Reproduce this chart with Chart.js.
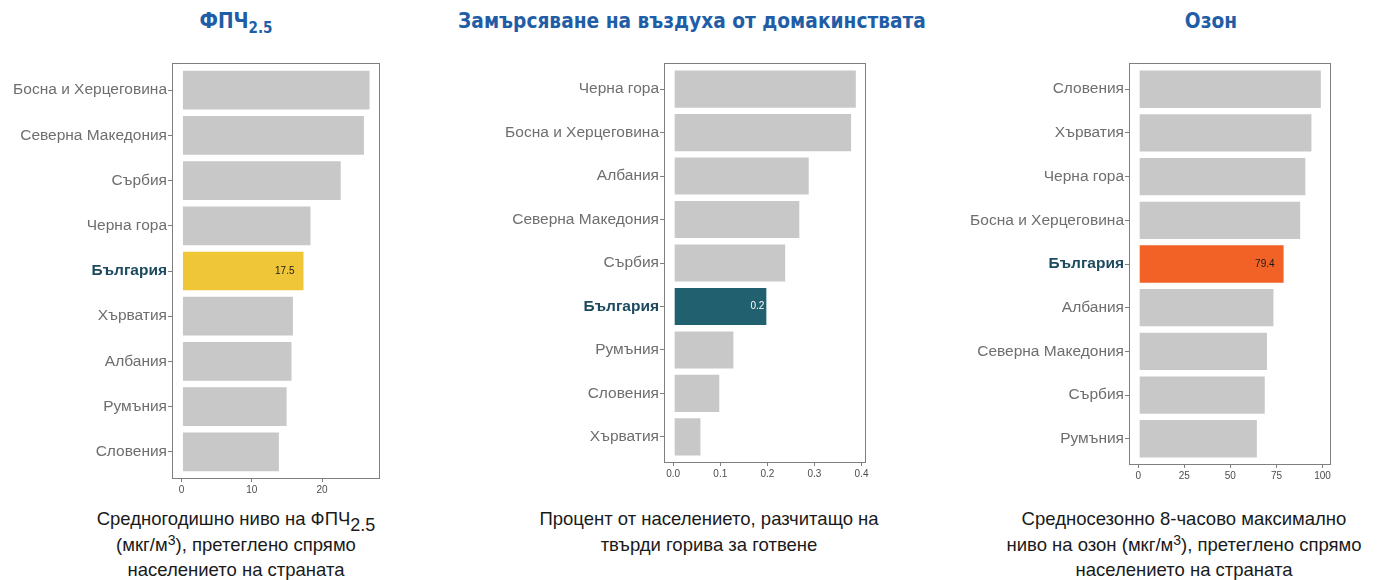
<!DOCTYPE html>
<html>
<head>
<meta charset="utf-8">
<script src="https://cdn.jsdelivr.net/npm/chart.js@4.4.1/dist/chart.umd.min.js"></script>
<style>
  html, body { margin: 0; padding: 0; background: #fff; }
  body { width: 1391px; height: 580px; position: relative; overflow: hidden;
         font-family: "Liberation Sans", Arial, sans-serif; }
  .title { position: absolute; top: 8px; color: #1f5da6; font-weight: bold; font-size: 22px;
           font-family: "Liberation Sans Narrow", "DejaVu Sans Condensed", "Liberation Sans", sans-serif;
           text-align: center; white-space: nowrap; transform: translateX(-50%) scaleX(0.94); }
  .title sub { font-size: 16px; vertical-align: -5px; line-height: 0; }
  .caption { position: absolute; top: 506px; color: #1a1a1a; font-size: 18.5px; line-height: 25.5px;
             text-align: center; white-space: nowrap; transform: translateX(-50%); }
  .caption sub { font-size: 18px; vertical-align: -6px; line-height: 0; }
  .caption sup { font-size: 14px; vertical-align: 6px; line-height: 0; }
  .panel { position: absolute; top: 50px; height: 460px; }
</style>
</head>
<body>
<div class="title" style="left:236px">ФПЧ<sub>2.5</sub></div>
<div class="title" style="left:692px">Замърсяване на въздуха от домакинствата</div>
<div class="title" style="left:1211px">Озон</div>

<div class="caption" style="left:236px">Средногодишно ниво на ФПЧ<sub>2.5</sub><br>(мкг/м<sup>3</sup>), претеглено спрямо<br>населението на страната</div>
<div class="caption" style="left:709px">Процент от населението, разчитащо на<br>твърди горива за готвене</div>
<div class="caption" style="left:1184px">Средносезонно 8-часово максимално<br>ниво на озон (мкг/м<sup>3</sup>), претеглено спрямо<br>населението на страната</div>

<div class="panel" style="left:0px;width:400px"><canvas id="pm25"></canvas></div>
<div class="panel" style="left:450px;width:440px"><canvas id="household"></canvas></div>
<div class="panel" style="left:940px;width:420px"><canvas id="ozone"></canvas></div>

<script>
// --- данни ---
const pmCountries = ["Босна и Херцеговина", "Северна Македония", "Сърбия", "Черна гора", "България",
  "Хърватия", "Албания", "Румъния", "Словения"];
const pmValues = [26.9, 26.1, 22.8, 18.5, 17.5, 16.0, 15.8, 15.1, 14.0];
const pmTicks = [0, 10, 20];

const hhCountries = ["Черна гора", "Босна и Херцеговина", "Албания", "Северна Македония", "Сърбия",
  "България", "Румъния", "Словения", "Хърватия"];
const hhValues = [0.39, 0.38, 0.29, 0.27, 0.24, 0.20, 0.13, 0.10, 0.06];
const hhTicks = [0, 0.1, 0.2, 0.3, 0.4];

const ozCountries = ["Словения", "Хърватия", "Черна гора", "Босна и Херцеговина", "България",
  "Албания", "Северна Македония", "Сърбия", "Румъния"];
const ozValues = [99.6, 94.5, 91.2, 88.4, 79.4, 73.9, 70.4, 69.2, 64.9];
const ozTicks = [0, 25, 50, 75, 100];

const HIGHLIGHT = "България";
const GREY_BAR = "#c8c8c8";

// рамка около областта на графиката (като panel.border в ggplot)
const framePlugin = {
  id: "frame",
  afterDraw: (chart) => {
    const a = chart.chartArea;
    const ctx = chart.ctx;
    ctx.save();
    ctx.strokeStyle = "#7f7f7f";
    ctx.lineWidth = 1;
    ctx.strokeRect(a.left + 0.5, a.top + 0.5, a.right - a.left - 1, a.bottom - a.top - 1);
    ctx.restore();
  }
};

// стойност върху маркираната лента
const valueLabelPlugin = {
  id: "valueLabel",
  afterDatasetsDraw: (chart, args, opts) => {
    const ds = chart.data.datasets[0];
    const idx = opts.countries.indexOf(HIGHLIGHT);
    const bar = chart.getDatasetMeta(0).data[idx];
    if (!bar) return;
    const ctx = chart.ctx;
    ctx.save();
    ctx.font = "10px 'Liberation Sans', Arial, sans-serif";
    ctx.textAlign = "right";
    ctx.textBaseline = "middle";
    ctx.fillStyle = opts.color;
    ctx.fillText(ds.data[idx].x.toFixed(1), bar.x - opts.inset, bar.y);
    ctx.restore();
  }
};

function makeChart(id, countries, values, ticks, highlightColor, box, labelOpts) {
  const maxV = Math.max(...values);
  const decimals = ticks[1] < 1 ? 1 : 0;
  return new Chart(document.getElementById(id), {
    type: "bar",
    data: {
      datasets: [{
        data: values.map((v, i) => ({ x: v, y: i })),
        backgroundColor: countries.map(c => c === HIGHLIGHT ? highlightColor : GREY_BAR),
        borderColor: "rgba(255,255,255,0.55)",
        borderWidth: 1,
        borderSkipped: false,
        categoryPercentage: 1,
        barPercentage: 0.9
      }]
    },
    options: {
      indexAxis: "y",
      responsive: true,
      maintainAspectRatio: false,
      animation: false,
      events: [],
      layout: { padding: { top: box.top, right: box.right, left: 0, bottom: 0 } },
      plugins: {
        legend: { display: false },
        title: { display: false },
        tooltip: { enabled: false },
        valueLabel: Object.assign({ countries: countries }, labelOpts)
      },
      scales: {
        x: {
          type: "linear",
          min: -0.05 * maxV,
          max: 1.05 * maxV,
          afterBuildTicks: (s) => { s.ticks = ticks.map(v => ({ value: v })); },
          afterFit: (s) => { s.height = box.xAxisH; },
          border: { display: false },
          grid: { drawOnChartArea: false, drawTicks: true, tickLength: 3, color: "#7f7f7f" },
          ticks: {
            color: "#4d4d4d",
            padding: 2,
            maxRotation: 0,
            autoSkip: false,
            font: { size: 10, family: "'Liberation Sans', Arial, sans-serif" },
            callback: (v) => Number(v).toFixed(decimals)
          }
        },
        y: {
          type: "linear",
          reverse: true,
          offset: false,
          min: -0.6,
          max: countries.length - 0.4,
          afterBuildTicks: (s) => { s.ticks = countries.map((c, i) => ({ value: i })); },
          afterFit: (s) => { s.width = box.yAxisW; },
          border: { display: false },
          grid: { offset: false, drawOnChartArea: false, drawTicks: true, tickLength: 4, color: "#7f7f7f" },
          ticks: {
            padding: 1,
            autoSkip: false,
            callback: (v) => countries[v],
            color: (c) => countries[c.index] === HIGHLIGHT ? "#1d4a5e" : "#6e6e6e",
            font: (c) => ({
              size: 15.5,
              family: "'Liberation Sans', Arial, sans-serif",
              weight: countries[c.index] === HIGHLIGHT ? "bold" : "normal"
            })
          }
        }
      }
    },
    plugins: [framePlugin, valueLabelPlugin]
  });
}

makeChart("pm25", pmCountries, pmValues, pmTicks, "#efc637",
  { top: 13, right: 20, yAxisW: 172, xAxisH: 31 }, { color: "#1a1a1a", inset: 10 });
makeChart("household", hhCountries, hhValues, hhTicks, "#21606f",
  { top: 13, right: 24, yAxisW: 214, xAxisH: 47 }, { color: "#ffffff", inset: 3 });
makeChart("ozone", ozCountries, ozValues, ozTicks, "#f26125",
  { top: 13, right: 29, yAxisW: 189, xAxisH: 45 }, { color: "#1a1a1a", inset: 10 });
</script>
</body>
</html>
